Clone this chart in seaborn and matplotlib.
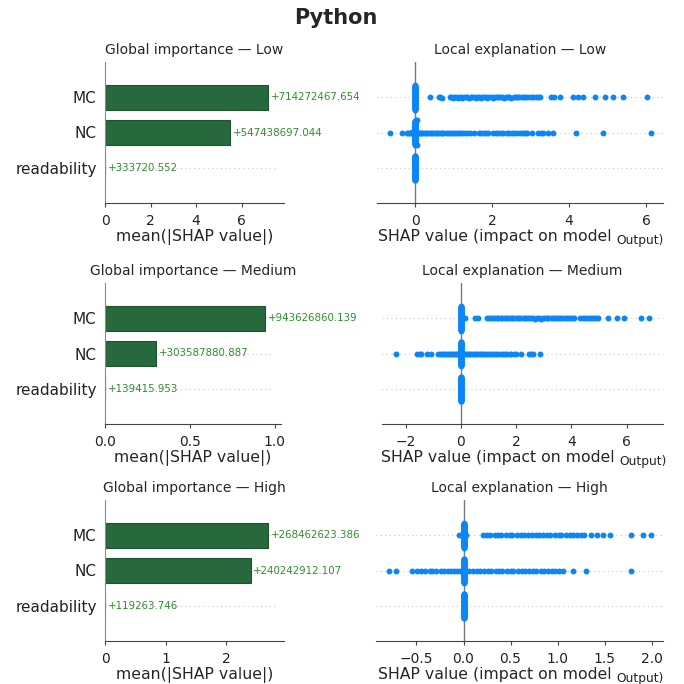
import numpy as np
import pandas as pd
import matplotlib
matplotlib.use("Agg")
import matplotlib.pyplot as plt
import seaborn as sns

# ---------------------------------------------------------------- data
features = ["MC", "NC", "readability"]
levels = ["Low", "Medium", "High"]

# mean(|SHAP value|) per feature (printed next to each bar)
importance_low = [714272467.654, 547438697.044, 333720.552]
importance_medium = [943626860.139, 303587880.887, 139415.953]
importance_high = [268462623.386, 240242912.107, 119263.746]

# the importance axis reads in multiples of these units
importance_unit = [1e8, 1e9, 1e8]
importance_ticks = [[0, 2, 4, 6], [0.0, 0.5, 1.0], [0, 1, 2]]
importance_ticklabels = [["0", "2", "4", "6"], ["0.0", "0.5", "1.0"], ["0", "1", "2"]]

# per-sample SHAP values: number of samples sitting at exactly 0, plus the rest
zero_count_low = [70, 70, 80]
zero_count_medium = [70, 70, 80]
zero_count_high = [70, 70, 80]

low_mc = [0.39, 0.61, 0.65, 0.69, 0.91, 0.94, 0.99, 1.02, 1.07, 1.11, 1.14, 1.19, 1.23,
          1.28, 1.31, 1.36, 1.41, 1.44, 1.49, 1.54, 1.57, 1.62, 1.66, 1.71, 1.74, 1.80,
          1.84, 1.88, 1.93, 1.99, 2.02, 2.07, 2.13, 2.16, 2.21, 2.27, 2.30, 2.35, 2.41,
          2.45, 2.50, 2.56, 2.61, 2.66, 2.71, 2.77, 2.83, 2.88, 2.94, 3.01, 3.07, 3.14,
          3.19, 3.25, 3.52, 3.60, 3.76, 4.11, 4.22, 4.37, 4.68, 4.94, 5.13, 5.41, 6.03]
low_nc = [-0.65, -0.35, -0.22, -0.18, -0.14, -0.11, -0.08, -0.05, -0.03, -0.01, 0.02,
          0.04, 0.06, 0.09, 0.12, 0.15, 0.19, 0.23, 0.27, 0.30, 0.35, 0.40, 0.43, 0.49,
          0.53, 0.57, 0.62, 0.67, 0.71, 0.76, 0.82, 0.86, 0.90, 0.96, 1.01, 1.05, 1.11,
          1.17, 1.22, 1.29, 1.35, 1.42, 1.52, 1.65, 1.71, 1.79, 1.85, 1.90, 2.03, 2.09,
          2.16, 2.23, 2.29, 2.38, 2.44, 2.51, 2.58, 2.66, 2.72, 2.80, 2.85, 2.90, 3.03,
          3.20, 3.27, 3.33, 3.46, 3.59, 4.18, 4.89, 6.13]
low_readability = []

medium_mc = [0.15, 0.51, 0.63, 0.93, 1.01, 1.08, 1.17, 1.22, 1.29, 1.36, 1.44, 1.50,
             1.58, 1.63, 1.71, 1.77, 1.85, 1.90, 1.98, 2.06, 2.11, 2.19, 2.27, 2.33,
             2.40, 2.48, 2.54, 2.62, 2.68, 2.75, 2.83, 2.89, 2.97, 3.03, 3.11, 3.17,
             3.25, 3.34, 3.40, 3.49, 3.55, 3.64, 3.71, 3.80, 3.87, 3.95, 4.02, 4.08,
             4.32, 4.41, 4.48, 4.58, 4.66, 4.74, 4.83, 4.90, 4.98, 5.33, 5.67, 5.90,
             6.52, 6.80]
medium_nc = [-2.35, -1.60, -1.49, -1.43, -1.24, -1.10, -0.83, -0.77, -0.70, -0.65, -0.58,
             -0.53, -0.47, -0.40, -0.36, -0.29, -0.25, -0.19, -0.15, -0.10, -0.06, -0.03,
             0.03, 0.08, 0.12, 0.17, 0.23, 0.28, 0.34, 0.41, 0.46, 0.52, 0.59, 0.64, 0.71,
             0.78, 0.84, 0.92, 0.98, 1.06, 1.13, 1.21, 1.28, 1.35, 1.44, 1.51, 1.60, 1.67,
             1.76, 1.83, 1.92, 2.00, 2.18, 2.45, 2.53, 2.62, 2.88]
medium_readability = []

high_mc = [-0.05, -0.03, 0.02, 0.03, 0.21, 0.25, 0.28, 0.33, 0.37, 0.40, 0.45, 0.49,
           0.52, 0.57, 0.61, 0.64, 0.69, 0.73, 0.77, 0.80, 0.85, 0.89, 0.92, 0.97, 1.01,
           1.04, 1.09, 1.13, 1.16, 1.21, 1.25, 1.28, 1.35, 1.42, 1.48, 1.56, 1.78, 1.91,
           1.99]
high_nc = [-0.79, -0.72, -0.55, -0.49, -0.45, -0.41, -0.36, -0.33, -0.29, -0.24, -0.21,
           -0.17, -0.13, -0.10, -0.07, -0.04, 0.03, 0.06, 0.10, 0.14, 0.17, 0.22, 0.26,
           0.29, 0.34, 0.38, 0.41, 0.46, 0.50, 0.53, 0.58, 0.62, 0.65, 0.70, 0.74, 0.77,
           0.82, 0.86, 0.90, 0.94, 0.97, 1.02, 1.06, 1.16, 1.30, 1.78]
high_readability = []

local_xlim = [(-0.99, 6.44), (-2.86, 7.32), (-0.93, 2.12)]
local_ticks = [[0, 2, 4, 6], [-2, 0, 2, 4, 6], [-0.5, 0.0, 0.5, 1.0, 1.5, 2.0]]

importance = [importance_low, importance_medium, importance_high]
zero_counts = [zero_count_low, zero_count_medium, zero_count_high]
local_values = [[low_mc, low_nc, low_readability],
                [medium_mc, medium_nc, medium_readability],
                [high_mc, high_nc, high_readability]]

# ---------------------------------------------------------------- style
sns.set_style("white")
plt.rcParams["font.family"] = ["DejaVu Sans"]

BAR = "#27683c"
BAR_EDGE = "#1d5430"
LABEL_GREEN = "#2e8f2e"
DOT = "#0a86f8"
GRID = "#c8c8c8"


def swarm_offsets(vals, nbins=100, row_height=0.4):
    """Beeswarm-style vertical offsets: points sharing a value bin fan out."""
    vals = np.asarray(vals, dtype=float)
    span = vals.max() - vals.min()
    quant = np.round(nbins * (vals - vals.min()) / (span + 1e-8))
    order = np.argsort(quant, kind="stable")
    ys = np.zeros(len(vals))
    layer, last = 0, None
    for ind in order:
        if quant[ind] != last:
            layer = 0
        ys[ind] = np.ceil(layer / 2) * ((layer % 2) * 2 - 1)
        layer += 1
        last = quant[ind]
    ys *= 0.9 * (row_height / np.max(ys + 1))
    return ys


fig = plt.figure(figsize=(6.84, 6.84), dpi=100)
W = H = 684.0

row_top = [62, 283, 500]
row_h = 141
left_x0 = 105
left_w = [179, 176, 179]
right_x = [(377, 663), (382, 663), (376, 663)]

fig.text(336 / W, 1 - 18 / H, "Python", ha="center", va="center",
         fontsize=15, fontweight="bold")

for r, level in enumerate(levels):
    bottom = 1 - (row_top[r] + row_h) / H

    # ---------------- global importance (bar chart)
    axl = fig.add_axes([left_x0 / W, bottom, left_w[r] / W, row_h / H])
    vals = importance[r]
    for i in range(len(features)):
        axl.axhline(i, xmax=0.955, color=GRID, lw=0.8, dashes=(1, 3), zorder=0)
    sns.barplot(x=vals, y=features, orient="h", ax=axl, color=BAR, saturation=1,
                width=0.7, edgecolor=BAR_EDGE, linewidth=0.8, zorder=2)
    for i, v in enumerate(vals):
        axl.annotate(f"+{v:.3f}", xy=(v, i), xytext=(2, 0), textcoords="offset points",
                     ha="left", va="center", fontsize=7.4, color=LABEL_GREEN,
                     annotation_clip=False, zorder=3)
    unit = importance_unit[r]
    axl.set_xlim(0, max(vals) * 1.1)
    axl.set_ylim(3, -1)
    axl.set_xticks([t * unit for t in importance_ticks[r]])
    axl.set_xticklabels(importance_ticklabels[r])
    axl.set_ylabel("")
    axl.set_xlabel("mean(|SHAP value|)", fontsize=11.3, labelpad=0.5)
    axl.set_title(f"Global importance — {level}", fontsize=10, pad=6)
    for s in ("top", "right"):
        axl.spines[s].set_visible(False)
    axl.spines["left"].set_color("#8a8a8a")
    axl.spines["bottom"].set_color("#444444")
    axl.tick_params(axis="y", length=0, pad=6, labelsize=11, colors="#222222")
    axl.tick_params(axis="x", bottom=True, length=3, pad=5, labelsize=10,
                    color="#444444", labelcolor="#222222")

    # ---------------- local explanation (beeswarm)
    x0, x1 = right_x[r]
    axr = fig.add_axes([x0 / W, bottom, (x1 - x0) / W, row_h / H])
    frames = []
    for i, feat in enumerate(features):
        shap_vals = np.concatenate([np.zeros(zero_counts[r][i]),
                                    np.asarray(local_values[r][i], dtype=float)])
        frames.append(pd.DataFrame({"shap": shap_vals,
                                    "row": i + swarm_offsets(shap_vals),
                                    "feature": feat}))
        axr.axhline(i, color=GRID, lw=0.8, dashes=(1, 3), zorder=0)
    df = pd.concat(frames, ignore_index=True)
    axr.axvline(0, color="#7a7a7a", lw=1.0, zorder=1)
    sns.scatterplot(data=df, x="shap", y="row", ax=axr, color=DOT, s=18,
                    linewidth=0, legend=False, zorder=3)
    axr.set_xlim(*local_xlim[r])
    axr.set_ylim(3, -1)
    axr.set_xticks(local_ticks[r])
    axr.set_yticks([])
    axr.set_ylabel("")
    axr.set_title(f"Local explanation — {level}", fontsize=10, pad=6)
    for s in ("top", "right", "left"):
        axr.spines[s].set_visible(False)
    axr.spines["bottom"].set_color("#444444")
    axr.tick_params(axis="x", bottom=True, length=3, pad=5, labelsize=10,
                    color="#444444", labelcolor="#222222")
    axr.set_xlabel("SHAP value (impact on model", fontsize=11.3, labelpad=0.5)
    axr.xaxis.label.set_x(0.413)
    axr.annotate("Output)", xy=(1, 0), xycoords=axr.xaxis.label,
                 xytext=(3.5, -2.0), textcoords="offset points",
                 ha="left", va="bottom", fontsize=8.8, color="#222222")

fig.savefig("out.png", dpi=100)
